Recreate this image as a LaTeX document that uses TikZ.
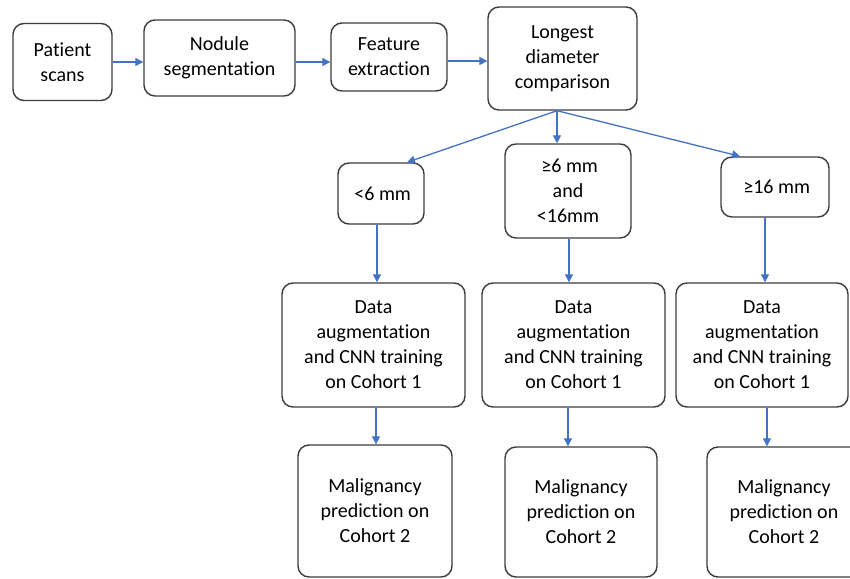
\documentclass[tikz,border=0pt]{standalone}
\usepackage{fontspec}
\setmainfont{Carlito}[RawFeature={-liga}]
\usetikzlibrary{arrows.meta}
\definecolor{arrblue}{HTML}{4472C4}
\definecolor{boxgray}{HTML}{3C3C3C}
\tikzset{
  box/.style={draw=boxgray, line width=1.4pt, rounded corners=11pt, fill=white,
    align=center, inner sep=0pt, font=\fontsize{20}{25}\selectfont, text=black},
  arr/.style={draw=arrblue, line width=1.3pt, -{Triangle[length=8pt,width=8pt]}}
}
\begin{document}
\begin{tikzpicture}[x=1pt,y=-1pt]
\useasboundingbox (0,0) rectangle (850,578);
\fill[white] (0,0) rectangle (850,578);
% top row
\node[box, minimum width=99pt, minimum height=77pt] (pat) at (62.5,62) {Patient\\scans};
\node[box, minimum width=151pt, minimum height=76pt] (nod) at (219.5,58) {Nodule\\segmentation};
\node[box, minimum width=116pt, minimum height=68pt] (fea) at (389,57) {Feature\\extraction};
\node[box, minimum width=149pt, minimum height=103pt] (lon) at (562.5,58.5) {Longest\\diameter\\comparison};
% second row
\node[box, minimum width=86pt, minimum height=61pt] (lt6) at (381,193.5) {\,<6 mm};
\node[box, minimum width=126pt, minimum height=94pt] (ge6) at (568,191) {\,≥6 mm\\and\\<16mm};
\node[box, minimum width=108pt, minimum height=60pt] (ge16) at (775,187) {\,≥16 mm};
% third row
\node[box, minimum width=183pt, minimum height=124pt] (d1) at (373.5,345) {Data\\augmentation\\and CNN training\\on Cohort 1};
\node[box, minimum width=183pt, minimum height=124pt] (d2) at (573.5,345) {Data\\augmentation\\and CNN training\\on Cohort 1};
\node[box, minimum width=172pt, minimum height=124pt] (d3) at (762,345) {Data\\augmentation\\and CNN training\\on Cohort 1};
% fourth row
\node[box, minimum width=154pt, minimum height=132pt] (m1) at (375,511) {Malignancy\\prediction on\\Cohort 2};
\node[box, minimum width=152pt, minimum height=130pt] (m2) at (581,512) {Malignancy\\prediction on\\Cohort 2};
\node[box, minimum width=154pt, minimum height=130pt] (m3) at (784,512) {Malignancy\\prediction on\\Cohort 2};
% connectors top row
\draw[arr] (pat.east) -- (pat.east -| nod.west);
\draw[arr] ([yshift=-4pt]nod.east) -- ([yshift=-4pt]nod.east -| fea.west);
\draw[arr] ([yshift=-4pt]fea.east) -- ([yshift=-4pt]fea.east -| lon.west);
% fan out
\draw[arr] ([xshift=-5.5pt]lon.south) -- ([xshift=26pt]lt6.north);
\draw[arr] ([xshift=-5.5pt]lon.south) -- ([xshift=-5.5pt]lon.south |- ge6.north);
\draw[arr] ([xshift=-5.5pt]lon.south) -- ([xshift=-35pt]ge16.north);
% verticals
\draw[arr] ([xshift=-4pt]lt6.south) -- ([xshift=-4pt]lt6.south |- d1.north);
\draw[arr] ([xshift=1pt]ge6.south) -- ([xshift=1pt]ge6.south |- d2.north);
\draw[arr] ([xshift=-10pt]ge16.south) -- ([xshift=-10pt]ge16.south |- d3.north);
\draw[arr] ([xshift=2.5pt]d1.south) -- ([xshift=2.5pt]d1.south |- m1.north);
\draw[arr] ([xshift=-5.5pt]d2.south) -- ([xshift=-5.5pt]d2.south |- m2.north);
\draw[arr] ([xshift=5pt]d3.south) -- ([xshift=5pt]d3.south |- m3.north);
\end{tikzpicture}
\end{document}
